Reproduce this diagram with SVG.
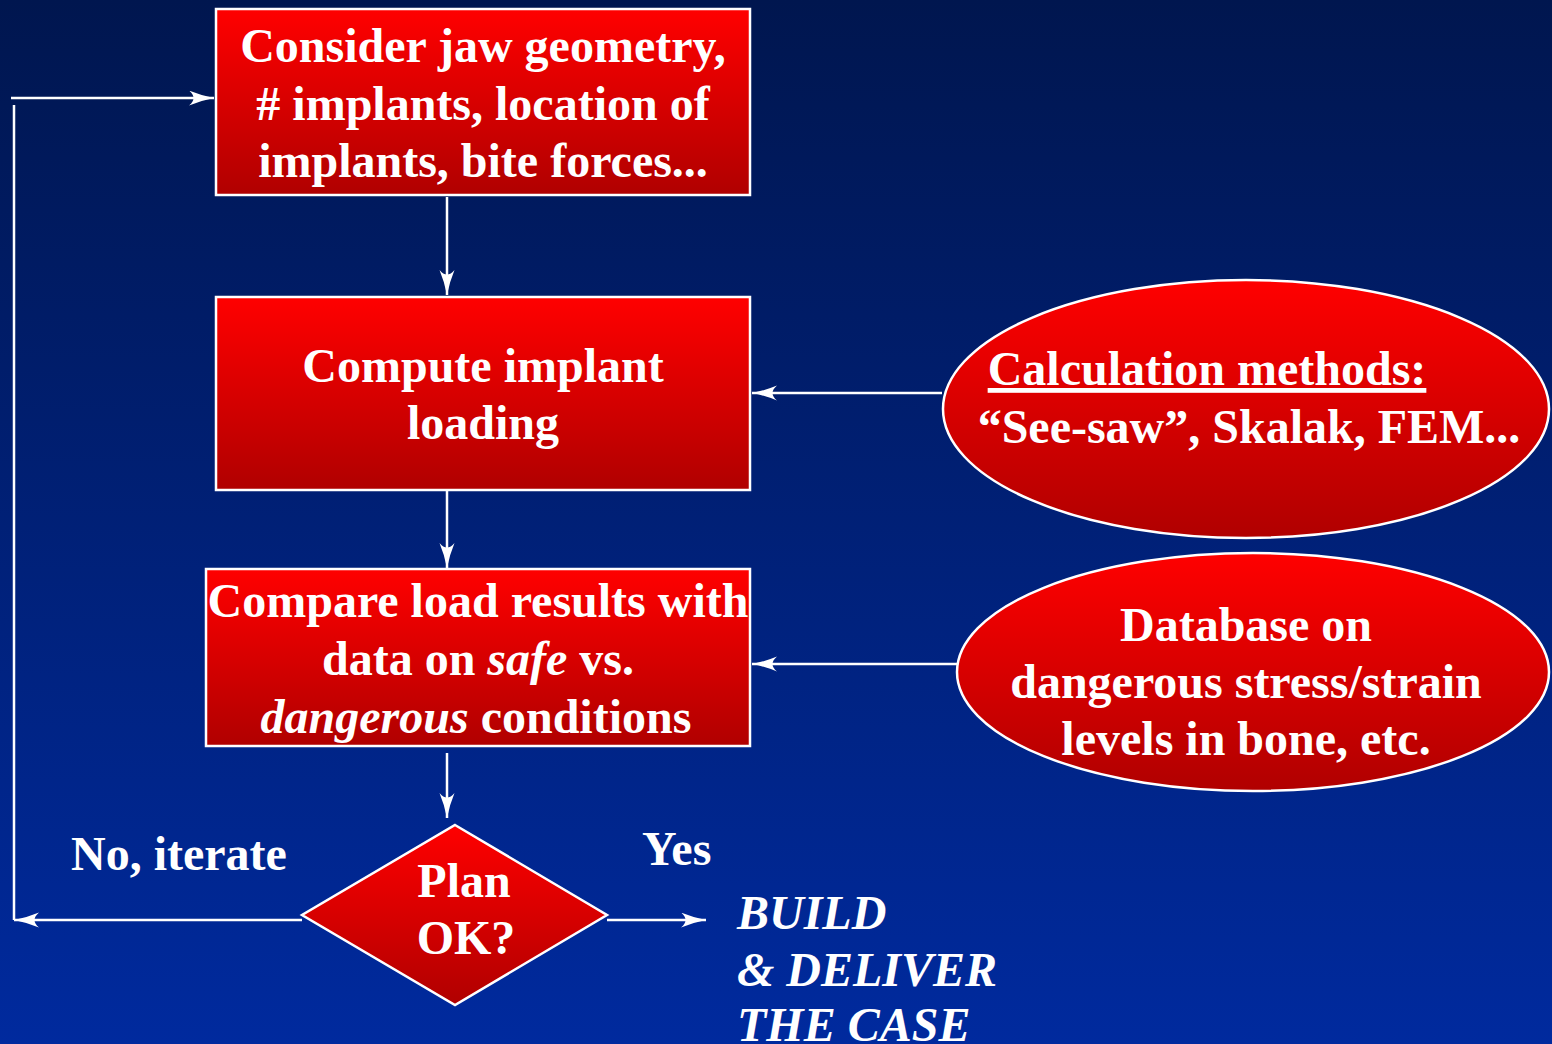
<svg xmlns="http://www.w3.org/2000/svg" width="1552" height="1044" viewBox="0 0 1552 1044">
<defs>
<linearGradient id="bg" x1="0" y1="0" x2="0" y2="1">
<stop offset="0" stop-color="#00164f"/>
<stop offset="1" stop-color="#002a9e"/>
</linearGradient>
<linearGradient id="red" x1="0" y1="0" x2="0" y2="1">
<stop offset="0" stop-color="#ff0000"/>
<stop offset="1" stop-color="#b00000"/>
</linearGradient>
<marker id="arr" markerUnits="userSpaceOnUse" markerWidth="26" markerHeight="16" refX="25" refY="7.5" orient="auto" viewBox="0 0 26 16">
<path d="M0,0 Q12,5 25,7.5 Q12,10 0,15 Q9,7.5 0,0 Z" fill="#ffffff"/>
</marker>
<style>
.shape{fill:url(#red);stroke:#ffffff;stroke-width:2.5}
.t{font-family:"Liberation Serif","Times New Roman",serif;font-weight:bold;font-size:48px;fill:#ffffff;text-anchor:middle}
.l{font-family:"Liberation Serif","Times New Roman",serif;font-weight:bold;font-size:48px;fill:#ffffff}
.i{font-style:italic}
.c{fill:none;stroke:#ffffff;stroke-width:2.5}
</style>
</defs>
<rect x="0" y="0" width="1552" height="1044" fill="url(#bg)"/>

<g id="connectors">
<path class="c" d="M447,197 L447,295" marker-end="url(#arr)"/>
<path class="c" d="M942,393 L752,393" marker-end="url(#arr)"/>
<path class="c" d="M447,491 L447,568" marker-end="url(#arr)"/>
<path class="c" d="M957,664 L752,664" marker-end="url(#arr)"/>
<path class="c" d="M447,753 L447,818" marker-end="url(#arr)"/>
<path class="c" d="M302,920 L14,920" marker-end="url(#arr)"/>
<path class="c" d="M14,920 L14,105"/>
<path class="c" d="M11,98 L214,98" marker-end="url(#arr)"/>
<path class="c" d="M607,920 L706,920" marker-end="url(#arr)"/>
</g>

<g id="node-consider">
<rect class="shape" x="216" y="9" width="534" height="186"/>
<text class="t" x="483" y="62">Consider jaw geometry,</text>
<text class="t" x="483" y="120"># implants, location of</text>
<text class="t" x="483" y="177">implants, bite forces...</text>
</g>

<g id="node-compute">
<rect class="shape" x="216" y="297" width="534" height="193"/>
<text class="t" x="483" y="382">Compute implant</text>
<text class="t" x="483" y="439">loading</text>
</g>

<g id="node-compare">
<rect class="shape" x="206" y="569" width="544" height="177"/>
<text class="t" x="478" y="617">Compare load results with</text>
<text class="t" x="478" y="675">data on <tspan class="i">safe</tspan> vs.</text>
<text class="t" x="476" y="733"><tspan class="i">dangerous</tspan> conditions</text>
</g>

<g id="node-calc">
<ellipse class="shape" cx="1246" cy="409" rx="303" ry="129"/>
<text class="t" x="1207" y="385" text-decoration="underline">Calculation methods:</text>
<text class="t" x="1249" y="443">“See-saw”, Skalak, FEM...</text>
</g>

<g id="node-database">
<ellipse class="shape" cx="1253" cy="672" rx="296" ry="119"/>
<text class="t" x="1246" y="641">Database on</text>
<text class="t" x="1246" y="698">dangerous stress/strain</text>
<text class="t" x="1246" y="755">levels in bone, etc.</text>
</g>

<g id="node-plan">
<polygon class="shape" points="455,825 607,915 455,1005 302,915"/>
<text class="t" x="464" y="897">Plan</text>
<text class="t" x="466" y="954">OK?</text>
</g>

<g id="labels">
<text class="l" x="71" y="870">No, iterate</text>
<text class="l" x="642" y="865">Yes</text>
</g>

<g id="node-build">
<text class="l i" x="737" y="929">BUILD</text>
<text class="l i" x="737" y="986">&amp; DELIVER</text>
<text class="l i" x="737" y="1041">THE CASE</text>
</g>
</svg>
